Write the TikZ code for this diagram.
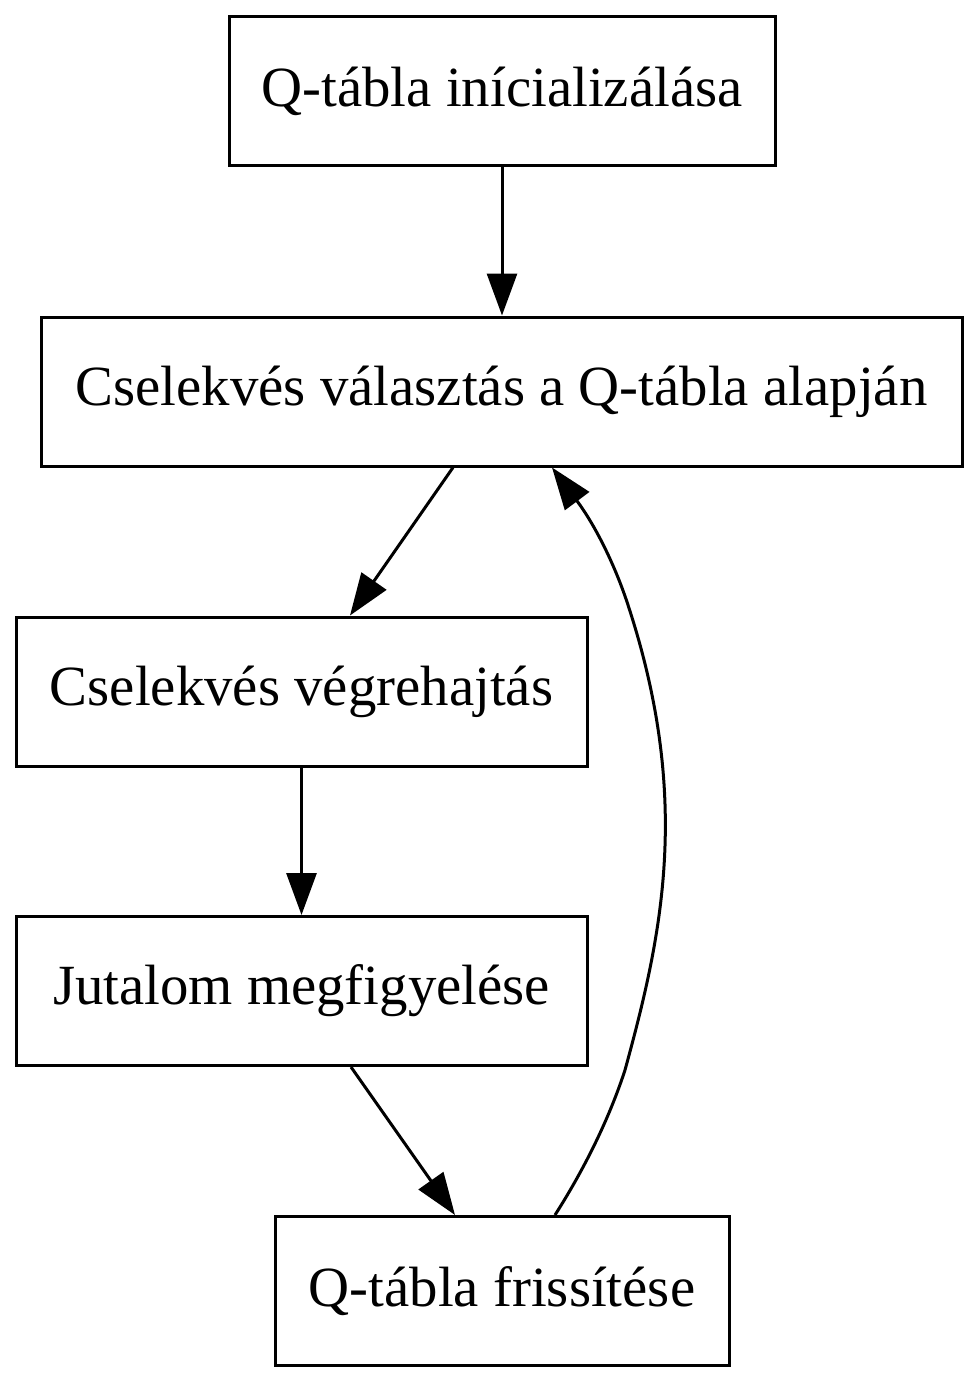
\documentclass[tikz,border=0pt]{standalone}
\usepackage{fontspec}
\setmainfont{Liberation Serif}
\usetikzlibrary{arrows.meta,calc}
\begin{document}
\begin{tikzpicture}[x=1pt,y=-1pt,
  box/.style={draw,line width=3pt,minimum height=149pt,inner sep=0pt,font=\fontsize{56.8}{68}\selectfont},
  conn/.style={line width=3pt,-{Triangle[length=42pt,width=30pt]}}]
\useasboundingbox (0,0) rectangle (979,1383);
\node[box,minimum width=546pt] (n1) at (502,91.5) {Q-tábla inícializálása};
\node[box,minimum width=921pt] (n2) at (501.5,391.5) {Cselekvés választás a Q-tábla alapján};
\node[box,minimum width=571pt] (n3) at (301.5,691.5) {Cselekvés végrehajtás};
\node[box,minimum width=571pt] (n4) at (301.5,991) {Jutalom megfigyelése};
\node[box,minimum width=454pt] (n5) at (502,1291) {Q-tábla frissítése};
\draw[conn] (n1.south) -- (n1.south |- n2.north);
\draw[conn] ($(n2.south)+(-48.5,0)$) -- ($(n3.north)+(48.5,0)$);
\draw[conn] (n3.south) -- (n4.north);
\draw[conn] ($(n4.south)+(49.5,0)$) -- ($(n5.north)+(-47,0)$);
\draw[conn] ($(n5.north)+(53,0)$) .. controls (590,1160) and (612,1110) .. (625,1070)
  .. controls (662,935) and (692,800) .. (628,605)
  .. controls (615,565) and (595,525) .. ($(n2.south)+(50.5,0)$);
\end{tikzpicture}
\end{document}
